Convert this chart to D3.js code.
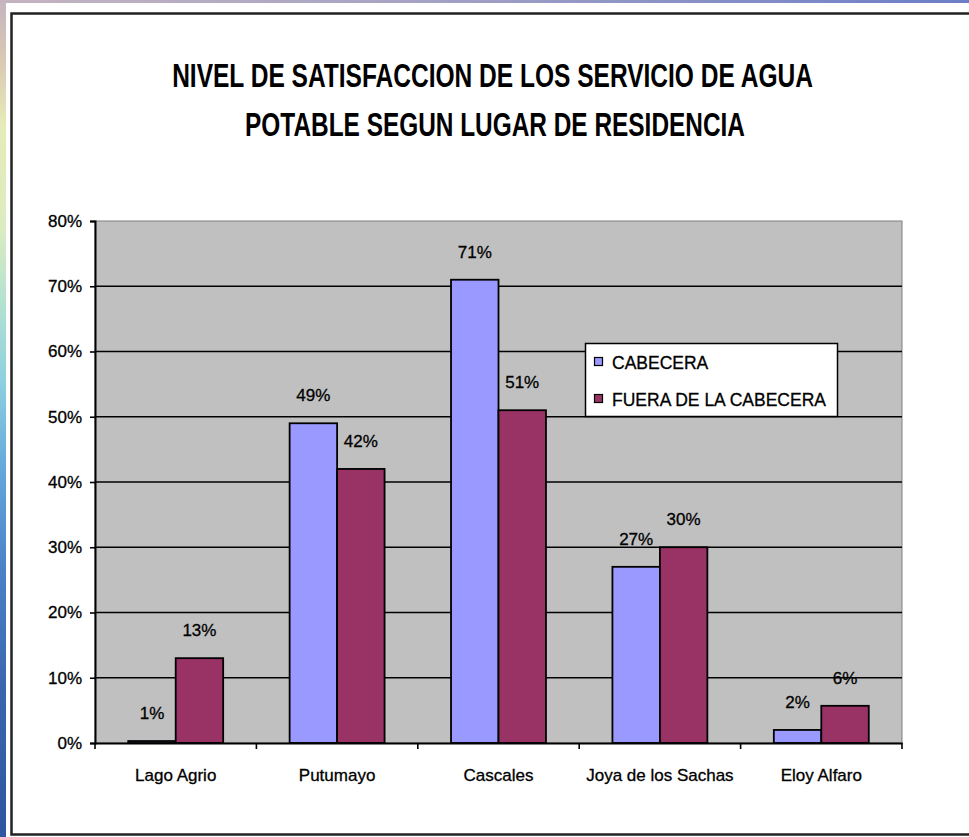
<!DOCTYPE html>
<html>
<head>
<meta charset="utf-8">
<script src="https://cdn.jsdelivr.net/npm/d3@7"></script>
<style>
html,body{margin:0;padding:0;background:#fff;}
svg{display:block;}
</style>
</head>
<body>
<script>
const titleLines = ["NIVEL DE SATISFACCION DE LOS SERVICIO DE AGUA", "POTABLE SEGUN LUGAR DE RESIDENCIA"];
const categories = ["Lago Agrio", "Putumayo", "Cascales", "Joya de los Sachas", "Eloy Alfaro"];
const seriesNames = ["CABECERA", "FUERA DE LA CABECERA"];
const cabecera = [0.3, 49, 71, 27, 2];
const fuera = [13, 42, 51, 30, 5.7];
const cabeceraLabels = ["1%", "49%", "71%", "27%", "2%"];
const fueraLabels = ["13%", "42%", "51%", "30%", "6%"];
const yTicks = [0, 10, 20, 30, 40, 50, 60, 70, 80];
const colors = ["#9999ff", "#993366"];

const W = 969, H = 837;
const svg = d3.select("body").append("svg").attr("width", W).attr("height", H);
const defs = svg.append("defs");

// slide background strips
const gl = defs.append("linearGradient").attr("id","gl").attr("x1",0).attr("y1",0).attr("x2",0).attr("y2",1);
[[0,"#c4b4c0"],[0.07,"#d8c8b4"],[0.15,"#e6ebb8"],[0.27,"#dcecc0"],[0.36,"#b4e2d0"],[0.46,"#8ccfe0"],[0.56,"#64a8dc"],[0.68,"#4a82c8"],[0.82,"#3a66b0"],[1,"#2f56a0"]]
  .forEach(([o,c])=>gl.append("stop").attr("offset",o).attr("stop-color",c));
const gt = defs.append("linearGradient").attr("id","gt").attr("x1",0).attr("y1",0).attr("x2",1).attr("y2",0);
[[0,"#c4b4c0"],[0.4,"#a8a4c4"],[1,"#6c7ec8"]].forEach(([o,c])=>gt.append("stop").attr("offset",o).attr("stop-color",c));
svg.append("rect").attr("x",0).attr("y",0).attr("width",6).attr("height",H).attr("fill","url(#gl)");
svg.append("rect").attr("x",0).attr("y",0).attr("width",W).attr("height",3).attr("fill","url(#gt)");

// panel border
svg.append("rect").attr("x",11.5).attr("y",13.5).attr("width",1000).attr("height",821)
  .attr("fill","#fff").attr("stroke","#222").attr("stroke-width",2.5);

// title (bold, horizontally condensed to the reference width)
const font = "'Liberation Sans', Arial, sans-serif";
const tLens = [641, 500];
const tX = [492.5, 495];
const tY = [87, 136];
titleLines.forEach((t,i)=>{
  const tt = svg.append("text").attr("x",0).attr("y",0).attr("text-anchor","middle")
    .attr("font-family",font).attr("font-weight","bold").attr("font-size",33)
    .attr("fill","#000").text(t);
  const w = tt.node().getComputedTextLength();
  tt.attr("transform",`translate(${tX[i]},${tY[i]}) scale(${tLens[i]/w},1)`);
});

// scales
const plot = {l:95, r:902, t:221, b:743};
const y = d3.scaleLinear().domain([0,80]).range([plot.b, plot.t]);
const x0 = d3.scaleBand().domain(categories).range([plot.l, plot.r]).padding(0);
const x1 = d3.scaleBand().domain(seriesNames).range([0, x0.bandwidth()]).paddingInner(0).paddingOuter(0.7);

// plot area
svg.append("rect").attr("x",plot.l).attr("y",plot.t).attr("width",plot.r-plot.l).attr("height",plot.b-plot.t)
  .attr("fill","#c0c0c0").attr("stroke","#808080").attr("stroke-width",1);

// gridlines
svg.append("g").selectAll("line").data(yTicks.filter(v=>v>0 && v<80)).join("line")
  .attr("x1",plot.l).attr("x2",plot.r).attr("y1",d=>y(d)).attr("y2",d=>y(d))
  .attr("stroke","#000").attr("stroke-width",1.6);

// bars
const rows = categories.map((c,i)=>({cat:c, vals:[
  {s:seriesNames[0], v:cabecera[i], lab:cabeceraLabels[i], col:colors[0]},
  {s:seriesNames[1], v:fuera[i], lab:fueraLabels[i], col:colors[1]}]}));
const g = svg.append("g").selectAll("g").data(rows).join("g")
  .attr("transform",d=>`translate(${x0(d.cat)},0)`);
g.selectAll("rect").data(d=>d.vals).join("rect")
  .attr("x",d=>x1(d.s)).attr("width",x1.bandwidth())
  .attr("y",d=>y(d.v)).attr("height",d=>plot.b-y(d.v))
  .attr("fill",d=>d.col).attr("stroke","#000").attr("stroke-width",1.8);
g.selectAll("text").data(d=>d.vals).join("text")
  .attr("x",d=>x1(d.s)+x1.bandwidth()/2).attr("y",d=>y(d.v)-22)
  .attr("text-anchor","middle").attr("font-family",font).attr("font-size",17)
  .attr("stroke","#000").attr("stroke-width",0.3)
  .attr("fill","#000").text(d=>d.lab);

// y axis
const yAxis = d3.axisLeft(y).tickValues(yTicks).tickFormat(d=>d+"%").tickSize(5).tickPadding(8);
const ya = svg.append("g").attr("transform",`translate(${plot.l},0)`).call(yAxis);
ya.select(".domain").attr("stroke","#000").attr("stroke-width",2);
ya.selectAll(".tick line").attr("stroke","#000").attr("stroke-width",1.6);
ya.selectAll("text").attr("font-family",font).attr("font-size",17).attr("fill","#000")
  .attr("stroke","#000").attr("stroke-width",0.3);

// x axis
const xa = svg.append("g").attr("transform",`translate(0,${plot.b})`)
  .call(d3.axisBottom(x0).tickSize(0).tickPadding(0).tickFormat(""));
xa.select(".domain").attr("stroke","#000").attr("stroke-width",2);
const bounds = categories.map(c=>x0(c)).concat([plot.r]);
xa.selectAll(".bnd").data(bounds).join("line").attr("class","bnd")
  .attr("x1",d=>d).attr("x2",d=>d).attr("y1",0).attr("y2",6)
  .attr("stroke","#000").attr("stroke-width",1.6);
xa.selectAll(".tick text").remove();
svg.append("g").selectAll("text").data(categories).join("text")
  .attr("x",d=>x0(d)+x0.bandwidth()/2).attr("y",781)
  .attr("text-anchor","middle").attr("font-family",font).attr("font-size",17)
  .attr("stroke","#000").attr("stroke-width",0.3)
  .attr("fill","#000").text(d=>d);

// legend
const lg = svg.append("g");
lg.append("rect").attr("x",585.5).attr("y",343.5).attr("width",252).attr("height",73)
  .attr("fill","#fff").attr("stroke","#000").attr("stroke-width",1.5);
const ly = [369, 406];
seriesNames.forEach((s,i)=>{
  lg.append("rect").attr("x",594.5).attr("y",ly[i]-11.5).attr("width",8).attr("height",8)
    .attr("fill",colors[i]).attr("stroke","#000").attr("stroke-width",1.2);
  lg.append("text").attr("x",612).attr("y",ly[i]).attr("font-family",font).attr("font-size",17.5)
    .attr("stroke","#000").attr("stroke-width",0.3)
    .attr("fill","#000").text(s);
});
</script>
</body>
</html>
